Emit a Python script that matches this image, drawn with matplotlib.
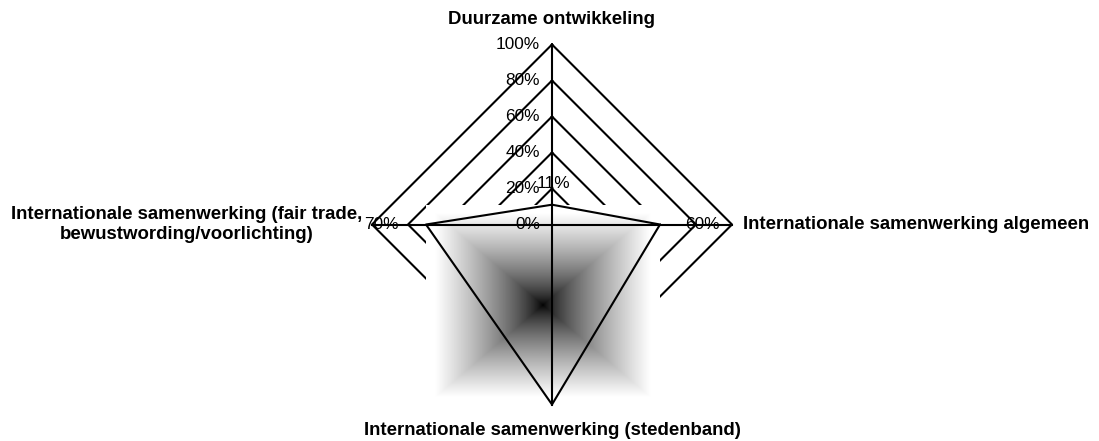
import numpy as np
import matplotlib.pyplot as plt

plt.rcParams["font.family"] = ["Liberation Sans", "DejaVu Sans"]

# categories clockwise from the top
categories = [
    "Duurzame ontwikkeling",
    "Internationale samenwerking algemeen",
    "Internationale samenwerking (stedenband)",
    "Internationale samenwerking (fair trade,\nbewustwording/voorlichting)",
]
values = [0.11, 0.60, 1.00, 0.70]
value_labels = ["11%", "60%", "", "70%"]
ring_levels = [0.0, 0.2, 0.4, 0.6, 0.8, 1.0]
ring_labels = ["0%", "20%", "40%", "60%", "80%", "100%"]

W, H = 1099, 441
cx, cy = 552, 216.5  # centre in pixels from bottom-left
scale = 180.0        # pixels for 100%

angles = np.pi / 2 - np.arange(len(categories)) * np.pi / 2
ux, uy = np.round(np.cos(angles), 6), np.round(np.sin(angles), 6)

fig = plt.figure(figsize=(W / 100, H / 100), dpi=100)
ax = fig.add_axes([0, 0, 1, 1])
ax.set_xlim(-cx / scale, (W - cx) / scale)
ax.set_ylim(-cy / scale, (H - cy) / scale)
ax.axis("off")

# diamond grid rings
for r in ring_levels[1:]:
    ax.plot(np.append(ux, ux[0]) * r, np.append(uy, uy[0]) * r,
            color="black", lw=1.5, zorder=1)

# gradient fill over the bounding box of the series (dark centre, white edges)
px, py = ux * np.array(values), uy * np.array(values)
x0, x1, y0, y1 = px.min(), px.max(), py.min(), py.max()
u = np.linspace(-1, 1, 301)
gx, gy = np.meshgrid(u, u)
dist = np.maximum(np.abs(gx), np.abs(gy))
shade = np.clip(dist ** 0.72 * 1.06, 0, 1)
ax.imshow(shade, cmap="gray", vmin=0, vmax=1, extent=[x0, x1, y0, y1],
          aspect="auto", interpolation="bilinear", zorder=2)

# spokes
for a, b in zip(ux, uy):
    ax.plot([0, a], [0, b], color="black", lw=1.5, zorder=3)

# series outline
ax.plot(np.append(px, px[0]), np.append(py, py[0]), color="black", lw=1.5, zorder=4)

# value axis labels
for r, lab in zip(ring_levels, ring_labels):
    ax.annotate(lab, xy=(0, r), xytext=(-12, 0), textcoords="offset pixels",
                ha="right", va="center", fontsize=12.4, zorder=5)

# data labels
offsets = [(1, 21), (42, 0), (0, -20), (-45, 0)]
for x, y, lab, off in zip(px, py, value_labels, offsets):
    if lab:
        ax.annotate(lab, xy=(x, y), xytext=off, textcoords="offset pixels",
                    ha="center", va="center", fontsize=12.4, zorder=5)

# category labels
bold = dict(fontsize=13.4, fontweight="bold", zorder=5)
ax.text(0, 1.14, categories[0], ha="center", va="center", **bold)
ax.text(1.061, 0, categories[1], ha="left", va="center", **bold)
ax.text(0, -1.142, categories[2], ha="center", va="center", **bold)
ax.text(-1.056, 0, categories[3], ha="right", va="center",
        multialignment="center", linespacing=1.25, **bold)

fig.savefig("out.png", dpi=100)
